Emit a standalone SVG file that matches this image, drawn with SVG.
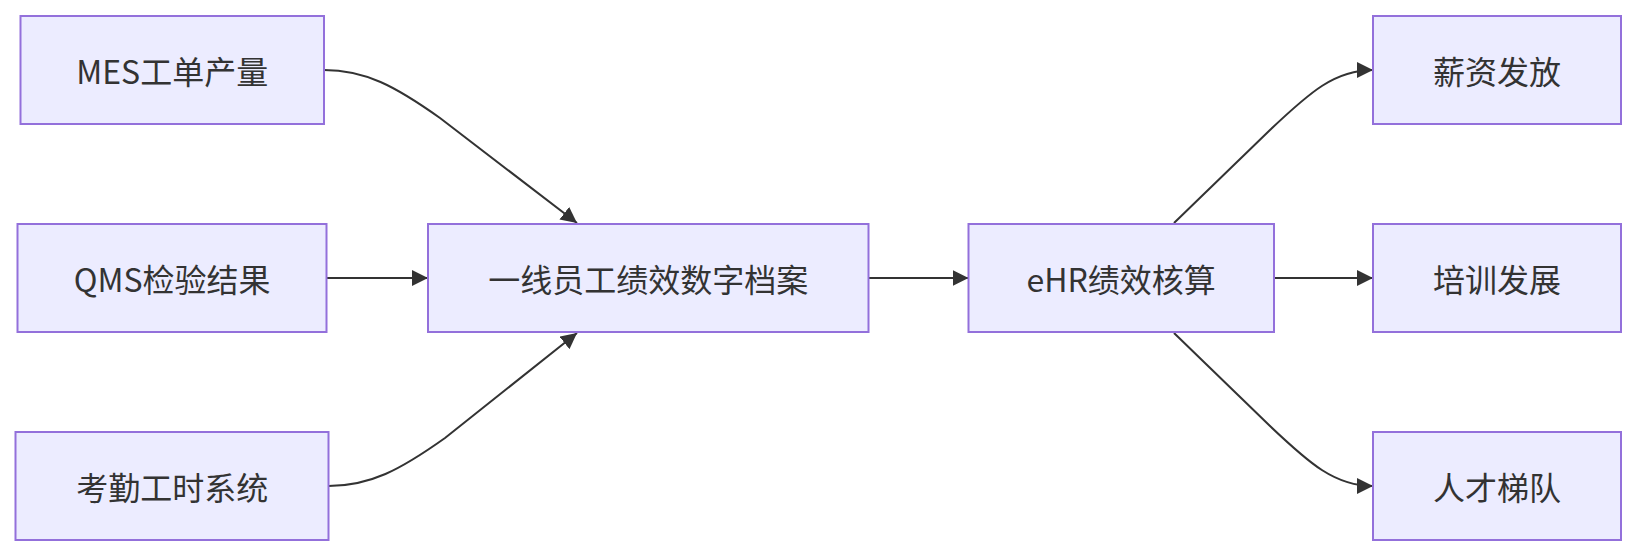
<svg xmlns="http://www.w3.org/2000/svg" width="1637" height="556" viewBox="0 0 1637 556">
<style>
.node rect{fill:#ECECFF;stroke:#9370DB;stroke-width:2;}
.node text{font-family:"Noto Sans CJK SC","Noto Sans",sans-serif;font-size:32px;fill:#333333;text-anchor:middle;dominant-baseline:central;}
.edge{fill:none;stroke:#333333;stroke-width:2;}
</style>
<defs>
<marker id="arrow" viewBox="0 0 10 10" refX="10" refY="5" markerUnits="userSpaceOnUse" markerWidth="16" markerHeight="16" orient="auto">
<path d="M0,0 L10,5 L0,10 z" fill="#333333"/>
</marker>
</defs>
<rect width="1637" height="556" fill="#ffffff"/>
<g id="connectors">
<path class="edge" marker-end="url(#arrow)" d="M324,70 C365,70 395,86 440,118 L577,223"/>
<path class="edge" marker-end="url(#arrow)" d="M326.5,278 L428,278"/>
<path class="edge" marker-end="url(#arrow)" d="M328.5,486 C370,486 400,470 445,438 L577,333"/>
<path class="edge" marker-end="url(#arrow)" d="M868.5,278 L968.5,278"/>
<path class="edge" marker-end="url(#arrow)" d="M1174,223 L1270,130 C1310,92 1335,70 1373,70"/>
<path class="edge" marker-end="url(#arrow)" d="M1274,278 L1373,278"/>
<path class="edge" marker-end="url(#arrow)" d="M1174,333 L1270,426 C1310,464 1335,486 1373,486"/>
</g>
<g id="node-mes" class="node"><rect x="20.5" y="16" width="303.5" height="108"/><text x="172.2" y="70">MES工单产量</text></g>
<g id="node-qms" class="node"><rect x="17.5" y="224" width="309" height="108"/><text x="172.2" y="278">QMS检验结果</text></g>
<g id="node-attendance" class="node"><rect x="15.5" y="432" width="313" height="108"/><text x="172.2" y="486">考勤工时系统</text></g>
<g id="node-archive" class="node"><rect x="428" y="224" width="440.5" height="108"/><text x="648.3" y="278">一线员工绩效数字档案</text></g>
<g id="node-ehr" class="node"><rect x="968.5" y="224" width="305.5" height="108"/><text x="1121.2" y="278">eHR绩效核算</text></g>
<g id="node-salary" class="node"><rect x="1373" y="16" width="248" height="108"/><text x="1497" y="70">薪资发放</text></g>
<g id="node-training" class="node"><rect x="1373" y="224" width="248" height="108"/><text x="1497" y="278">培训发展</text></g>
<g id="node-talent" class="node"><rect x="1373" y="432" width="248" height="108"/><text x="1497" y="486">人才梯队</text></g>
</svg>
